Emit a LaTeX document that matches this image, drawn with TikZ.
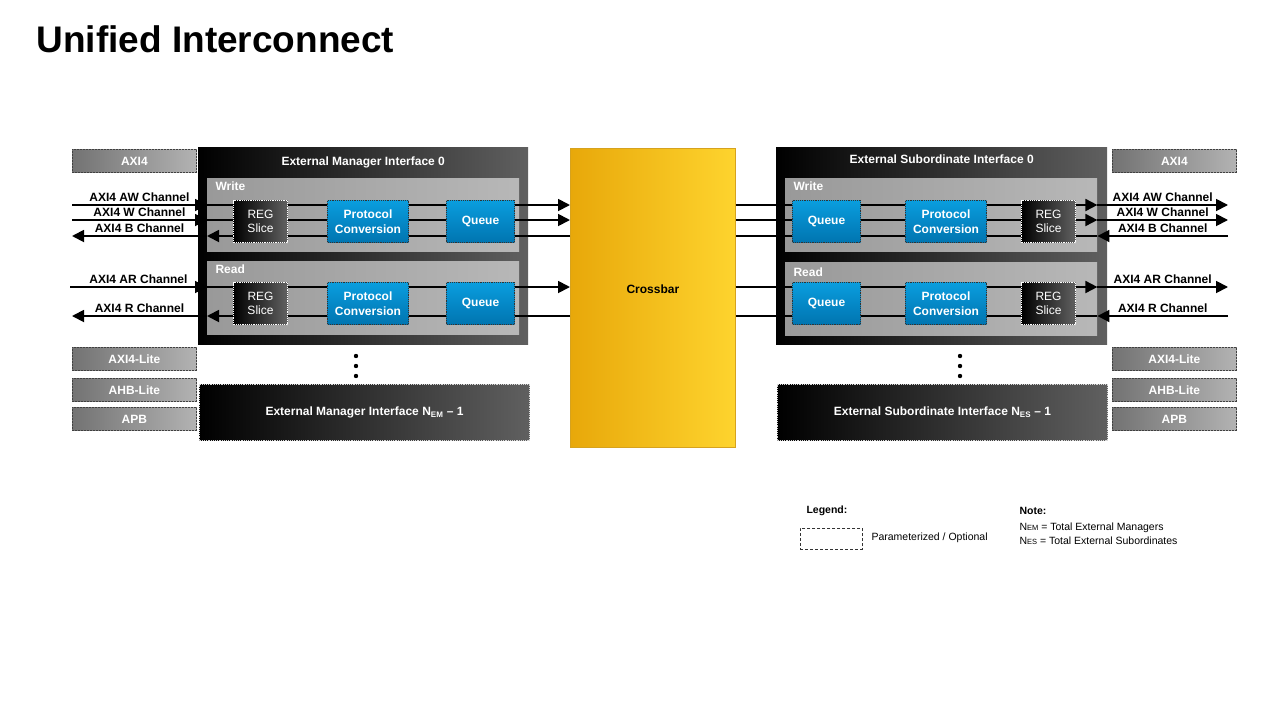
\documentclass[tikz,border=0pt]{standalone}
\usepackage{fontspec}
\setmainfont{Liberation Sans}
\usetikzlibrary{arrows.meta,positioning}
\definecolor{qblue}{RGB}{10,158,222}
\definecolor{qbluedk}{RGB}{0,116,176}
\definecolor{xbarl}{RGB}{232,168,10}
\definecolor{xbarr}{RGB}{254,212,46}
\definecolor{xbard}{RGB}{214,162,30}
\definecolor{ifgray}{RGB}{96,96,96}

\begin{document}
\begin{tikzpicture}[x=1pt,y=-1pt,
lbl/.style={font=\fontsize{12}{13}\selectfont\bfseries},
ifbox/.style={left color=black,right color=ifgray,anchor=north west,inner sep=0pt,minimum width=330pt},
optif/.style={ifbox,draw=black!15,dash pattern=on 1.2pt off 1pt,line width=1pt,minimum height=56pt,text=white,lbl},
subbox/.style={left color=black!40,right color=black!28,anchor=north west,inner sep=0pt,minimum width=312pt,minimum height=73pt},
prot/.style={left color=black!55,right color=black!30,draw=black!75,dash pattern=on 2pt off 1pt,line width=.8pt,anchor=north west,inner sep=0pt,minimum width=124pt,minimum height=23pt,text=white,lbl},
reg/.style={left color=black,right color=black!62,draw=white,dash pattern=on 1.2pt off 1pt,line width=1pt,anchor=north west,minimum width=54pt,minimum height=42pt,inner sep=0pt,text=white,align=center,font=\fontsize{12}{14.5}\selectfont},
blk/.style={top color=qblue,bottom color=qbluedk,draw=black!80,dash pattern=on 1.2pt off 1pt,line width=1pt,anchor=north west,minimum height=42pt,inner sep=0pt,text=white,align=center,font=\fontsize{12}{14.5}\selectfont\bfseries},
arr/.style={-{Triangle[length=12pt,width=12pt]},line width=1.8pt},
wire/.style={line width=1.8pt},
chlbl/.style={above=1pt,inner sep=1pt,lbl}]
\useasboundingbox (0,0) rectangle (1280,720);

\node[anchor=west,font=\fontsize{37}{40}\selectfont\bfseries] (title) at (33,39) {Unified Interconnect};

% protocol options
\node[prot] (pl0) at (72,149) {AXI4};
\node[prot] (pl1) at (72,347) {AXI4-Lite};
\node[prot] (pl2) at (72,378) {AHB-Lite};
\node[prot] (pl3) at (72,407) {APB};
\node[prot] (pr0) at (1112,149) {AXI4};
\node[prot] (pr1) at (1112,347) {AXI4-Lite};
\node[prot] (pr2) at (1112,378) {AHB-Lite};
\node[prot] (pr3) at (1112,407) {APB};

% interfaces
\node[ifbox,minimum height=197pt] (mgr0) at (198,147) {};
\node[lbl,text=white] at ([yshift=-15pt]mgr0.north) {External Manager Interface 0};
\node[subbox] (mgrW) at (207,178) {};
\node[subbox] (mgrR) at (207,261) {};
\node[lbl,text=white,anchor=west] at ([xshift=5pt,yshift=-8pt]mgrW.north west) {Write};
\node[lbl,text=white,anchor=west] at ([xshift=5pt,yshift=-8pt]mgrR.north west) {Read};

\node[ifbox,minimum width=331pt,minimum height=197pt] (slv0) at (776,147) {};
\node[lbl,text=white] at ([yshift=-12pt]slv0.north) {External Subordinate Interface 0};
\node[subbox] (slvW) at (785,178) {};
\node[subbox] (slvR) at (785,262) {};
\node[lbl,text=white,anchor=west] at ([xshift=5pt,yshift=-8pt]slvW.north west) {Write};
\node[lbl,text=white,anchor=west] at ([xshift=5pt,yshift=-10pt]slvR.north west) {Read};

\node[anchor=north west,left color=xbarl,right color=xbarr,draw=xbard,line width=.8pt,minimum width=165pt,minimum height=299pt,inner sep=0pt] (xbar) at (570,148) {};
\node[lbl] at ([yshift=9pt]xbar.center) {Crossbar};

% channels, manager side
\coordinate (mAW) at (72,205);
\coordinate (mW) at (72,220);
\coordinate (mB) at (72,236);
\coordinate (mAR) at (70,287);
\coordinate (mR) at (72,316);
\draw[arr] (mAW) -- node[chlbl]{AXI4 AW Channel} (mAW -| mgrW.west);
\draw[arr] (mAW -| mgrW.west) -- (mAW -| xbar.west);
\draw[arr] (mW) -- node[chlbl]{AXI4 W Channel} (mW -| mgrW.west);
\draw[arr] (mW -| mgrW.west) -- (mW -| xbar.west);
\draw[arr] (mB -| xbar.west) -- (mB -| mgrW.west);
\draw[arr] (mB -| mgrW.west) -- node[chlbl]{AXI4 B Channel} (mB);
\draw[arr] (mAR) -- node[chlbl]{AXI4 AR Channel} (mAR -| mgrR.west);
\draw[arr] (mAR -| mgrR.west) -- (mAR -| xbar.west);
\draw[arr] (mR -| xbar.west) -- (mR -| mgrR.west);
\draw[arr] (mR -| mgrR.west) -- node[chlbl]{AXI4 R Channel} (mR);

% channels, subordinate side
\coordinate (sAW) at (1228,205);
\coordinate (sW) at (1228,220);
\coordinate (sB) at (1228,236);
\coordinate (sAR) at (1228,287);
\coordinate (sR) at (1228,316);
\draw[arr] (sAW -| xbar.east) -- (sAW -| slvW.east);
\draw[arr] (sAW -| slvW.east) -- node[chlbl]{AXI4 AW Channel} (sAW);
\draw[arr] (sW -| xbar.east) -- (sW -| slvW.east);
\draw[arr] (sW -| slvW.east) -- node[chlbl]{AXI4 W Channel} (sW);
\draw[arr] (sB) -- node[chlbl]{AXI4 B Channel} (sB -| slvW.east);
\draw[wire] (sB -| slvW.east) -- (sB -| xbar.east);
\draw[arr] (sAR -| xbar.east) -- (sAR -| slvR.east);
\draw[arr] (sAR -| slvR.east) -- node[chlbl]{AXI4 AR Channel} (sAR);
\draw[arr] (sR) -- node[chlbl]{AXI4 R Channel} (sR -| slvR.east);
\draw[wire] (sR -| slvR.east) -- (sR -| xbar.east);

% pipeline blocks
\node[reg] (mregW) at (233,200) {REG\\Slice};
\node[blk,minimum width=81pt] (mpcW) at (327,200) {Protocol\\Conversion};
\node[blk,minimum width=68pt] (mqW) at (446,200) {Queue};
\node[reg] (mregR) at (233,282) {REG\\Slice};
\node[blk,minimum width=81pt] (mpcR) at (327,282) {Protocol\\Conversion};
\node[blk,minimum width=68pt] (mqR) at (446,282) {Queue};

\node[blk,minimum width=68pt] (sqW) at (792,200) {Queue};
\node[blk,minimum width=81pt] (spcW) at (905,200) {Protocol\\Conversion};
\node[reg] (sregW) at (1021,200) {REG\\Slice};
\node[blk,minimum width=68pt] (sqR) at (792,282) {Queue};
\node[blk,minimum width=81pt] (spcR) at (905,282) {Protocol\\Conversion};
\node[reg] (sregR) at (1021,282) {REG\\Slice};

% further interfaces
\foreach \yy in {356,366,376} {
  \fill (356,\yy) circle (2.2pt);
  \fill (960,\yy) circle (2.2pt);
}
\node[optif] (mgrN) at (199,384) {External Manager Interface N\textsubscript{EM} -- 1};
\node[optif] (slvN) at (777,384) {External Subordinate Interface N\textsubscript{ES} -- 1};

% legend
\node[anchor=west,font=\fontsize{10.5}{11}\selectfont\bfseries] (leg) at (803,511) {Legend:};
\node[draw=black!80,dash pattern=on 3pt off 2pt,line width=.8pt,anchor=north west,minimum width=62pt,minimum height=21pt,inner sep=0pt] (legbox) at (800,528) {};
\node[anchor=west,font=\fontsize{10.5}{12}\selectfont] (legtxt) at (868,538) {Parameterized / Optional};
\node[anchor=west,font=\fontsize{10.5}{11}\selectfont\bfseries] (note) at (1016,511) {Note:};
\node[anchor=west,font=\fontsize{10.5}{12}\selectfont] (noteEM) at (1016,528) {N{\fontsize{7.5}{8}\selectfont EM} = Total External Managers};
\node[anchor=west,font=\fontsize{10.5}{12}\selectfont] (noteES) at (1016,541) {N{\fontsize{7.5}{8}\selectfont ES} = Total External Subordinates};
\end{tikzpicture}
\end{document}
